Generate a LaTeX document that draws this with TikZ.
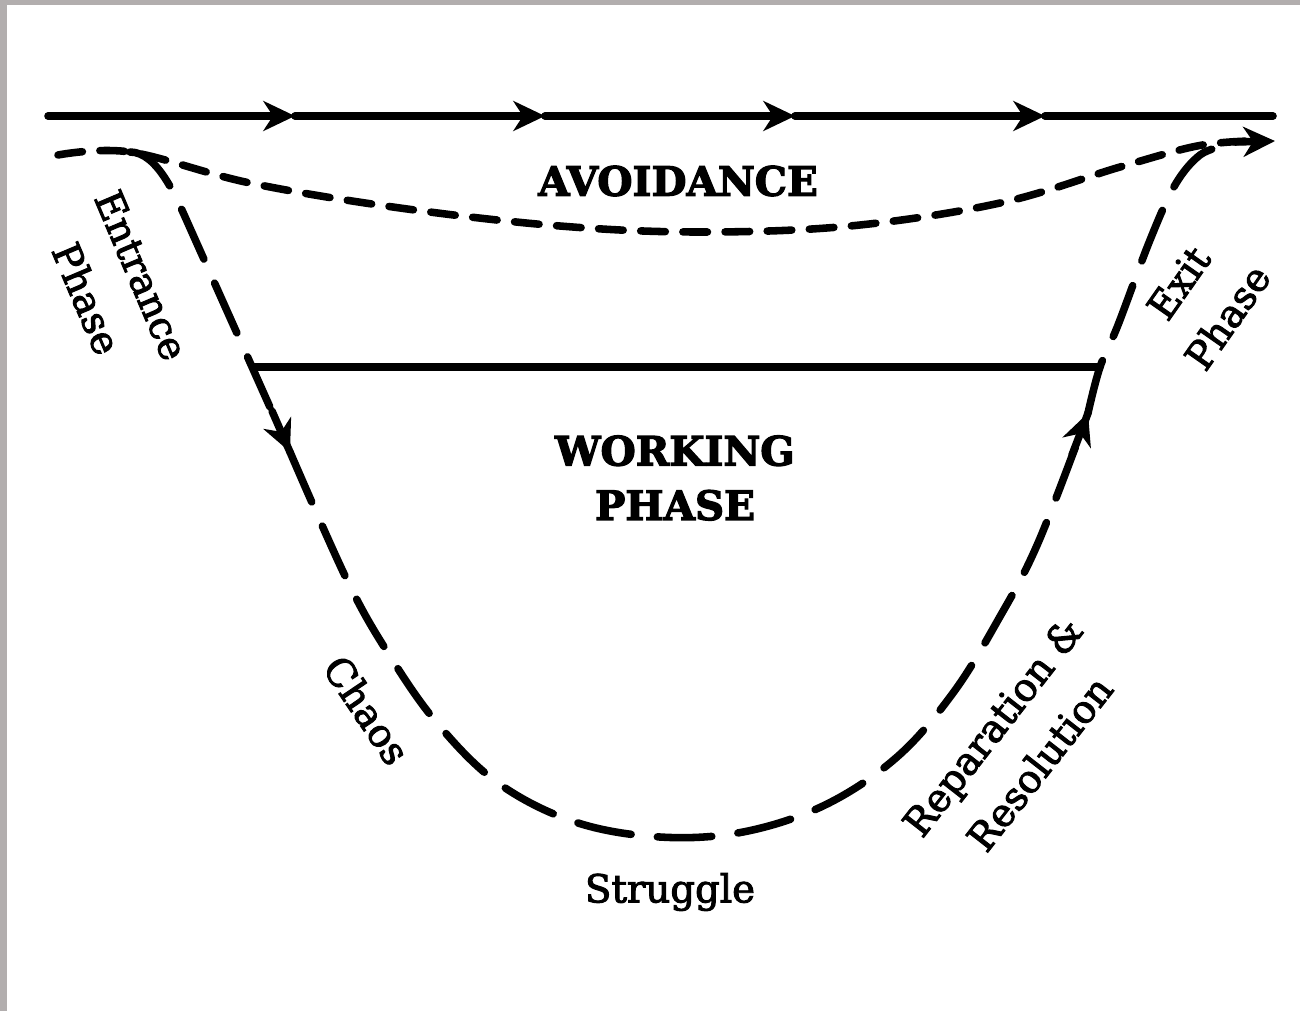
\documentclass[tikz,border=0pt]{standalone}
\usepackage{fontspec}
\setmainfont{DejaVu Serif}[BoldFeatures={FakeBold=3}]
\newfontfamily\labelfont{DejaVu Serif}[FakeBold=2.5]
\usetikzlibrary{arrows.meta}
\definecolor{scanborder}{RGB}{178,174,174}

\tikzset{
  >={Stealth[length=18pt,width=17pt,inset=5.5pt]},
  solidline/.style={line width=4.3pt, line cap=round},
  pathline/.style={line width=4.3pt, line cap=round, dash pattern=on 31pt off 15pt},
  skipline/.style={line width=4.3pt, line cap=round, dash pattern=on 14pt off 10pt},
  heading/.style={font=\bfseries\fontsize{23}{31}\selectfont, align=center},
  phasetext/.style={font=\labelfont\fontsize{22}{34}\selectfont, align=center},
}

\begin{document}
\begin{tikzpicture}[x=0.02cm, y=-0.02cm]
  \useasboundingbox (0,0) rectangle (1300,1011);
  % scan border
  \fill[scanborder] (0,0) rectangle (7,1011);
  \fill[scanborder] (0,0) rectangle (1300,5);

  %--- Outer line ---
  \foreach \xa/\xb in {48/295,295/545,545/795,795/1045}
    \draw[solidline, ->] (\xa,116) -- (\xb,116);
  \draw[solidline] (1045,116) -- (1273,116);

  %--- Working phase line ---
  \coordinate (wl) at (253,367);
  \coordinate (wr) at (1100,367);
  \draw[solidline] (wl) -- (wr);

  %--- Avoidance ---
  \coordinate (skipend) at (1275,141);
  \draw[skipline] plot[smooth, tension=0.6] coordinates {(58,155) (130,152) (250,183) (400,208) (560,226) (700,232) (850,226) (1000,203) (1120,167) (1197,146) (1250,141)};
  \draw[solidline, ->] (1235,142) -- (skipend);

  %--- Group path ---
  \coordinate (split) at (130,152);
  \coordinate (down) at (290,452);
  \coordinate (up) at (1088,413);
  \draw[pathline] (split) .. controls (158,152) and (177,199) .. (190,228) -- (down);
  \draw[solidline, ->] (272,411) -- (down);
  \draw[pathline] plot[smooth, tension=0.6] coordinates {(290,452) (347,580) (388,653) (437,723) (498,783) (575,822) (660,837) (743,832) (825,805) (897,757) (953,693) (998,620) (1038,543) (1088,413)};
  \draw[solidline, ->] (1072,455) -- (up);
  \draw[pathline] plot[smooth, tension=0.6] coordinates {(1088,413) (1100,367) (1118,325) (1150,240) (1175,185) (1200,155) (1225,146)};

  %--- Labels ---
  \node[heading] (avoid) at (678,181) {AVOIDANCE};
  \node[heading] (work) at (675,478) {WORKING\\PHASE};
  \node[phasetext, rotate=-67] (entrance) at (114,287) {Entrance\\Phase};
  \node[phasetext, rotate=55] (exit) at (1203,300) {Exit\\Phase};
  \node[phasetext, rotate=-56] (chaos) at (367,710) {Chaos};
  \node[phasetext] (struggle) at (670,892) {Struggle};
  \node[phasetext, rotate=52] (repair) at (1016,745) {Reparation \&\\Resolution};
\end{tikzpicture}
\end{document}
